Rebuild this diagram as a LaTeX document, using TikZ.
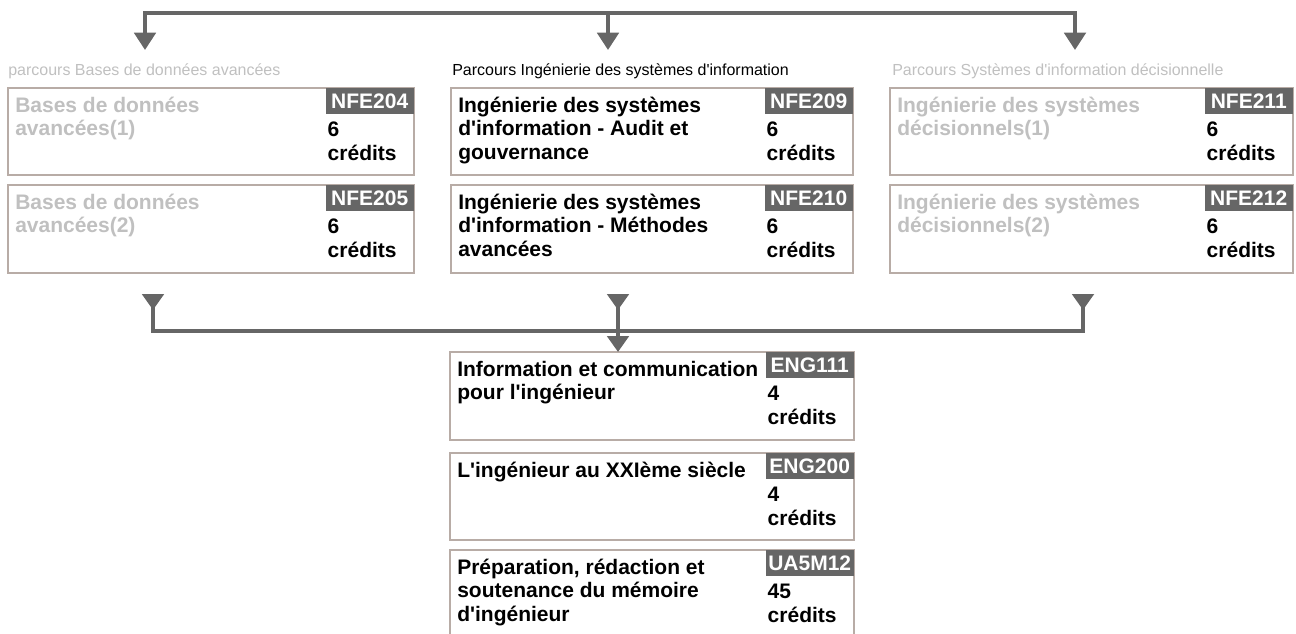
\documentclass[tikz,border=0pt]{standalone}
\usepackage{fontspec}
\setmainfont{Liberation Sans}[Ligatures=TeXOff]
\usetikzlibrary{arrows.meta}
\definecolor{bord}{RGB}{184,172,166}
\definecolor{dim}{RGB}{192,192,192}
\definecolor{conn}{RGB}{102,102,102}
\newcommand\bigf{\fontsize{15.75}{17.6}\selectfont\bfseries}
\newcommand\smallf{\fontsize{12}{14}\selectfont}
\tikzset{
  cbox/.style={draw=bord, line width=1.5pt, fill=white, inner sep=0pt, outer sep=0pt},
  badge/.style={fill=conn, text=white, font=\bigf, inner sep=0pt, minimum width=66pt, minimum height=19.5pt, anchor=north east},
  ctitle/.style={font=\bigf, align=left, inner sep=0pt, anchor=north west},
  credit/.style={font=\bigf, align=left, inner sep=0pt, anchor=north west, text=black},
  plabel/.style={font=\smallf, inner sep=0pt, anchor=base west},
  link/.style={draw=conn, line width=3pt, line join=miter},
  tipend/.style={-{Triangle[width=16pt,length=13pt]}},
  tipstart/.style={{Triangle[reversed,width=16pt,length=12pt]}-},
  tipboth/.style={{Triangle[reversed,width=16pt,length=12pt]}-{Triangle[width=16pt,length=12pt]}}
}
\newcommand\coursebox[9]{%
  \node[cbox, anchor=north west, minimum width={(#4-#2)*0.75pt}, minimum height={(#5-#3)*0.75pt}] (#1) at (#2,#3) {};
  \node[badge] (#1-code) at (#1.north east) {#7};
  \node[ctitle, text=#9] (#1-title) at ([xshift=5.25pt, yshift=-5.7pt]#1.north west) {\strut #6};
  \node[credit] (#1-cr) at ([xshift=1.5pt, yshift=-4.2pt]#1-code.south west) {\strut #8\\crédits};
}
\begin{document}
\begin{tikzpicture}[x=0.75pt, y=-0.75pt]
\path[use as bounding box, clip] (0,0) rectangle (1296,633);

% labels
\node[plabel, text=dim] (lblL) at (8,75) {parcours Bases de données avancées};
\node[plabel, text=black] (lblM) at (452,75) {Parcours Ingénierie des systèmes d'information};
\node[plabel, text=dim] (lblR) at (892,75) {Parcours Systèmes d'information décisionnelle};

% course boxes
\coursebox{L1}{8}{88}{414}{175}{Bases de données\\avancées(1)}{NFE204}{6}{dim}
\coursebox{L2}{8}{185}{414}{273}{Bases de données\\avancées(2)}{NFE205}{6}{dim}
\coursebox{M1}{451}{88}{853}{175}{Ingénierie des systèmes\\d'information - Audit et\\gouvernance}{NFE209}{6}{black}
\coursebox{M2}{451}{185}{853}{273}{Ingénierie des systèmes\\d'information - Méthodes\\avancées}{NFE210}{6}{black}
\coursebox{R1}{890}{88}{1293}{175}{Ingénierie des systèmes\\décisionnels(1)}{NFE211}{6}{dim}
\coursebox{R2}{890}{185}{1293}{273}{Ingénierie des systèmes\\décisionnels(2)}{NFE212}{6}{dim}
\coursebox{E1}{450}{352}{854}{440}{Information et communication\\pour l'ingénieur}{ENG111}{4}{black}
\coursebox{E2}{450}{453}{854}{540}{L'ingénieur au XXIème siècle}{ENG200}{4}{black}
\coursebox{E3}{450}{550}{854}{660}{Préparation, rédaction et\\soutenance du mémoire\\d'ingénieur}{UA5M12}{45}{black}

% top connectors
\coordinate (hubT) at (608,13);
\coordinate (t1) at (145,50);
\coordinate (t2) at (608,50);
\coordinate (t3) at (1075,50);
\draw[link, tipend] (hubT) -| (t1);
\draw[link, tipend] (hubT) -- (t2);
\draw[link, tipend] (hubT) -| (t3);

% bottom connectors
\coordinate (hubB) at (618,331);
\coordinate (b1) at (153,294);
\coordinate (b2) at (618,294);
\coordinate (b3) at (1083,294);
\draw[link, tipstart] (b1) |- (hubB);
\draw[link, tipstart] (b3) |- (hubB);
\draw[link, tipboth] (b2) -- (b2 |- E1.north);
\end{tikzpicture}
\end{document}
